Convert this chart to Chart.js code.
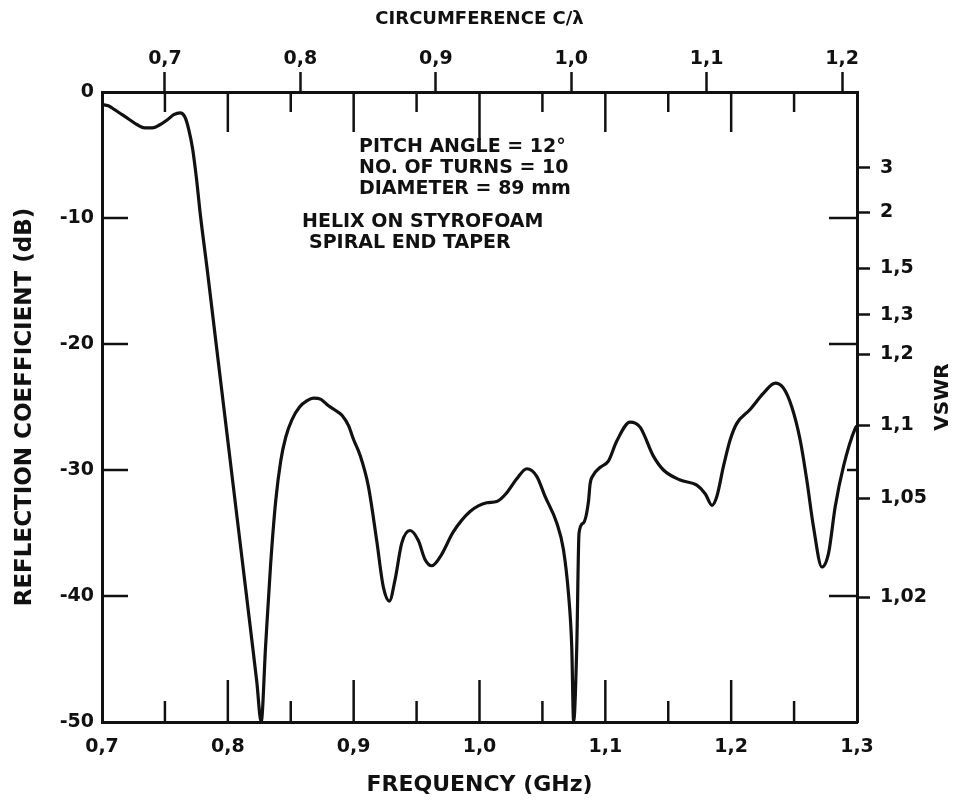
<!DOCTYPE html>
<html>
<head>
<meta charset="utf-8">
<script src="https://cdn.jsdelivr.net/npm/chart.js@4/dist/chart.umd.min.js"></script>
<style>
html,body{margin:0;padding:0;background:#ffffff;}
#wrap{width:960px;height:803px;}
</style>
</head>
<body>
<div id="wrap"><canvas id="c" width="960" height="803"></canvas></div>
<script>
// ---- data ----
const freqGHz = [0.700,0.705,0.710,0.716,0.722,0.728,0.734,0.740,0.746,0.752,0.757,0.762,0.766,0.769,0.772,0.775,0.778,0.784,0.790,0.797,0.804,0.811,0.818,0.823,0.8265,0.830,0.834,0.838,0.842,0.846,0.851,0.857,0.863,0.868,0.874,0.880,0.886,0.891,0.896,0.900,0.905,0.9117,0.9183,0.9236,0.9284,0.9329,0.9382,0.9448,0.9514,0.9567,0.9620,0.9687,0.9793,0.9925,1.0058,1.0137,1.0217,1.0296,1.0376,1.0455,1.0521,1.0614,1.0667,1.0707,1.0733,1.0748,1.0773,1.0791,1.0826,1.0866,1.0879,1.0905,1.0958,1.1024,1.1091,1.1197,1.1276,1.1382,1.1462,1.1595,1.1727,1.1795,1.1848,1.1886,1.1939,1.1992,1.2045,1.2150,1.2257,1.2350,1.2416,1.2482,1.2548,1.2601,1.2654,1.2721,1.2774,1.2827,1.2893,1.2986,1.3000];
const reflDB  = [-1.0,-1.1,-1.4,-1.8,-2.2,-2.6,-2.85,-2.85,-2.6,-2.2,-1.8,-1.65,-2.0,-3.0,-4.5,-6.8,-9.6,-14.4,-19.4,-25.2,-31.0,-36.8,-42.6,-46.8,-50,-44,-37.5,-32.5,-29.3,-27.4,-26.0,-25.0,-24.5,-24.3,-24.4,-24.9,-25.3,-25.7,-26.5,-27.6,-28.8,-31.3,-35.6,-39.3,-40.4,-38.7,-35.8,-34.8,-35.6,-37.1,-37.6,-36.9,-34.9,-33.3,-32.6,-32.5,-31.8,-30.7,-29.9,-30.5,-32.1,-34.2,-36.3,-39.8,-44.0,-50,-44,-35.0,-34.2,-32.5,-31.1,-30.4,-29.8,-29.3,-27.7,-26.2,-26.6,-28.9,-30.0,-30.8,-31.2,-31.9,-32.8,-32.1,-29.7,-27.6,-26.3,-25.2,-23.9,-23.1,-23.5,-25.0,-27.6,-30.8,-34.5,-37.7,-36.6,-32.9,-29.7,-26.7,-26.5];

const freqTicks = [0.7,0.8,0.9,1.0,1.1,1.2,1.3];
const freqTickLabels = ['0,7','0,8','0,9','1,0','1,1','1,2','1,3'];
const freqMinorTicks = [0.75,0.85,0.95,1.05,1.15,1.25];
const dbTicks = [0,-10,-20,-30,-40,-50];
const dbTickLabels = ['0','-10','-20','-30','-40','-50'];
const dbInnerTicks = [-10,-20,-30,-40];
const circRange = [0.6535,1.211];
const circTicks = [0.7,0.8,0.9,1.0,1.1,1.2];
const circTickLabels = ['0,7','0,8','0,9','1,0','1,1','1,2'];
const vswrTicks = [3,2,1.5,1.3,1.2,1.1,1.05,1.02];
const vswrTickLabels = ['3','2','1,5','1,3','1,2','1,1','1,05','1,02'];
const noteLines = ['PITCH ANGLE = 12°','NO. OF TURNS = 10','DIAMETER = 89 mm','HELIX ON STYROFOAM','SPIRAL END TAPER'];

const vswrToDb = v => 20*Math.log10((v-1)/(v+1));

const INK = '#111111';
const FONT = '"DejaVu Sans", sans-serif';

const decor = {
  id: 'decor',
  afterDraw(chart) {
    const {ctx, chartArea: a, scales} = chart;
    ctx.save();
    ctx.strokeStyle = INK;
    ctx.lineWidth = 2.5;
    const seg = (x1,y1,x2,y2) => { ctx.beginPath(); ctx.moveTo(x1,y1); ctx.lineTo(x2,y2); ctx.stroke(); };
    // inward frequency ticks on bottom and top
    freqTicks.slice(1,-1).forEach(v => {
      const px = scales.x.getPixelForValue(v);
      seg(px, a.bottom, px, a.bottom-42);
      seg(px, a.top, px, a.top+(v===1.0?48:40));
    });
    freqMinorTicks.forEach(v => {
      const px = scales.x.getPixelForValue(v);
      seg(px, a.bottom, px, a.bottom-21);
      seg(px, a.top, px, a.top+20);
    });
    // inward dB ticks left and right
    dbInnerTicks.forEach(v => {
      const py = scales.y.getPixelForValue(v);
      seg(a.left, py, a.left+26, py);
      seg(a.right, py, a.right-(v===-30?10:28), py);
    });
    // notes
    ctx.fillStyle = INK;
    ctx.textBaseline = 'middle';
    ctx.textAlign = 'left';
    ctx.font = 'bold 19px ' + FONT;
    ctx.fillText(noteLines[0], 359, 147);
    ctx.fillText(noteLines[1], 359, 168);
    ctx.fillText(noteLines[2], 359, 189);
    ctx.fillText(noteLines[3], 302, 222);
    ctx.fillText(noteLines[4], 309, 243);
    // VSWR title, reading bottom-to-top
    ctx.save();
    ctx.translate(943, (a.top+a.bottom)/2 - 10);
    ctx.rotate(-Math.PI/2);
    ctx.textAlign = 'center';
    ctx.font = 'bold 20px ' + FONT;
    ctx.fillText('VSWR', 0, 0);
    ctx.restore();
    ctx.restore();
  }
};

const axisBorder = {display: true, color: INK, width: 3};
const tickFont = {family: FONT, size: 19, weight: 'bold'};

new Chart(document.getElementById('c'), {
  type: 'line',
  data: {
    datasets: [{
      data: freqGHz.map((f, i) => ({x: f, y: reflDB[i]})),
      borderColor: INK,
      borderWidth: 3.2,
      pointRadius: 0,
      cubicInterpolationMode: 'monotone',
      borderJoinStyle: 'round',
      borderCapStyle: 'round',
      xAxisID: 'x',
      yAxisID: 'y',
      fill: false
    }]
  },
  options: {
    responsive: false,
    animation: false,
    devicePixelRatio: 1,
    layout: {padding: 0},
    plugins: {legend: {display: false}, tooltip: {enabled: false}},
    scales: {
      x: {
        type: 'linear', position: 'bottom', min: 0.7, max: 1.3,
        afterBuildTicks: s => { s.ticks = freqTicks.map(v => ({value: v})); },
        afterFit: s => { s.height = 81; },
        ticks: {color: INK, font: tickFont, padding: 14, maxRotation: 0, autoSkip: false,
                callback: (v, i) => freqTickLabels[i]},
        grid: {display: true, drawOnChartArea: false, drawTicks: false, color: INK},
        border: axisBorder,
        title: {display: true, text: 'FREQUENCY (GHz)', color: INK, font: {family: FONT, size: 22, weight: 'bold'}, padding: {top: 0, bottom: 5}}
      },
      x2: {
        type: 'linear', position: 'top', min: circRange[0], max: circRange[1],
        afterBuildTicks: s => { s.ticks = circTicks.map(v => ({value: v})); },
        afterFit: s => { s.height = 92; },
        ticks: {color: INK, font: tickFont, padding: 2, maxRotation: 0, autoSkip: false,
                callback: (v, i) => circTickLabels[i]},
        grid: {display: true, drawOnChartArea: false, drawTicks: true, tickLength: 20, tickWidth: 2.5, tickColor: INK, color: INK},
        border: axisBorder,
        title: {display: true, text: 'CIRCUMFERENCE C/λ', color: INK, font: {family: FONT, size: 18, weight: 'bold'}, padding: {top: 9, bottom: 0}}
      },
      y: {
        type: 'linear', position: 'left', min: -50, max: 0,
        afterBuildTicks: s => { s.ticks = dbTicks.map(v => ({value: v})); },
        afterFit: s => { s.width = 102; },
        ticks: {color: INK, font: tickFont, padding: 8, autoSkip: false,
                callback: (v, i) => dbTickLabels[i]},
        grid: {display: true, drawOnChartArea: false, drawTicks: false, color: INK},
        border: axisBorder,
        title: {display: true, text: 'REFLECTION COEFFICIENT (dB)', color: INK, font: {family: FONT, size: 23, weight: 'bold'}, padding: {top: 11, bottom: 0}}
      },
      y2: {
        type: 'linear', position: 'right', min: -50, max: 0,
        afterBuildTicks: s => { s.ticks = vswrTicks.map(v => ({value: vswrToDb(v)})); },
        afterFit: s => { s.width = 103; },
        ticks: {color: INK, font: tickFont, padding: 10, autoSkip: false,
                callback: (v, i) => vswrTickLabels[i]},
        grid: {display: true, drawOnChartArea: false, drawTicks: true, tickLength: 13, tickWidth: 2.5, tickColor: INK, color: INK},
        border: axisBorder
      }
    }
  },
  plugins: [decor]
});
</script>
</body>
</html>
